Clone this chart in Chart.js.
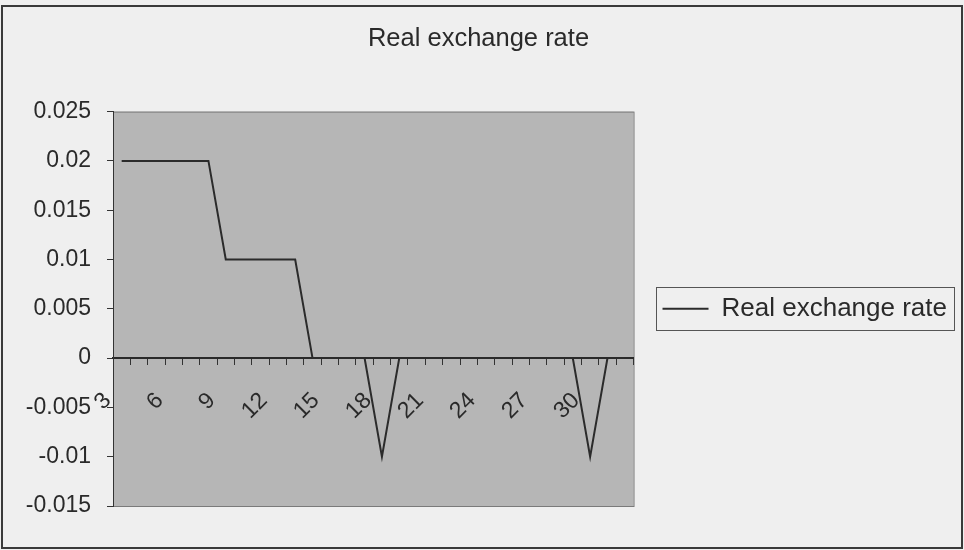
<!DOCTYPE html>
<html>
<head>
<meta charset="utf-8">
<script src="https://cdn.jsdelivr.net/npm/chart.js@4"></script>
<style>
  html, body { margin: 0; padding: 0; background: #efefef; }
  #wrap { width: 964px; height: 550px; }
</style>
</head>
<body>
<div id="wrap"><canvas id="rateChart" width="964" height="550"></canvas></div>
<script>
// periods 3..32
var periods = [3, 4, 5, 6, 7, 8, 9, 10, 11, 12, 13, 14, 15, 16, 17, 18, 19, 20, 21, 22, 23, 24, 25, 26, 27, 28, 29, 30, 31, 32];
var realRate = [0.02, 0.02, 0.02, 0.02, 0.02, 0.02, 0.01, 0.01, 0.01, 0.01, 0.01, 0, 0, 0, 0, -0.01, 0, 0, 0, 0, 0, 0, 0, 0, 0, 0, 0, -0.01, 0, 0];
var yTicks = [-0.015, -0.01, -0.005, 0, 0.005, 0.01, 0.015, 0.02, 0.025];

var font = 'Liberation Sans, Arial, sans-serif';

// grey plot area, outer frame and a box round the legend, Excel style
var excelLook = {
    id: 'excelLook',
    beforeDraw: function(chart) {
        var c = chart.ctx, a = chart.chartArea;
        c.save();
        c.fillStyle = '#efefef';
        c.fillRect(0, 0, chart.width, chart.height);
        c.strokeStyle = '#3a3a3a';
        c.lineWidth = 2;
        c.strokeRect(2, 6, chart.width - 4, chart.height - 8);
        c.fillStyle = '#b6b6b6';
        c.fillRect(a.left, a.top, a.right - a.left, a.bottom - a.top);
        c.strokeStyle = '#7a7a7a';
        c.lineWidth = 1;
        c.strokeRect(a.left + 0.5, a.top + 0.5, a.right - a.left, a.bottom - a.top);
        c.restore();
    },
    afterDraw: function(chart) {
        var hb = chart.legend.legendHitBoxes[0];
        if (!hb) return;
        var c = chart.ctx;
        c.save();
        c.strokeStyle = '#555';
        c.lineWidth = 1;
        c.strokeRect(Math.round(hb.left - 7) + 0.5, Math.round(hb.top - 9) + 0.5, Math.round(hb.width + 14), Math.round(hb.height + 17));
        c.restore();
    }
};

var ctx = document.getElementById('rateChart').getContext('2d');
var rateChart = new Chart(ctx, {
    type: 'line',
    data: {
        labels: periods,
        datasets: [{
            label: 'Real exchange rate',
            data: realRate,
            borderColor: '#2b2b2b',
            backgroundColor: '#2b2b2b',
            borderWidth: 2,
            pointRadius: 0,
            tension: 0,
            pointStyle: 'line'
        }]
    },
    options: {
        responsive: false,
        animation: false,
        layout: { padding: { top: 7, right: 7, left: 0, bottom: 44 } },
        plugins: {
            title: {
                display: true,
                text: 'Real exchange rate',
                color: '#2a2a2a',
                font: { family: font, size: 25.5, weight: 'normal' },
                padding: { top: 17, bottom: 57 }
            },
            legend: {
                position: 'right',
                fullSize: false,
                maxWidth: 400,
                labels: {
                    usePointStyle: true,
                    pointStyleWidth: 46,
                    padding: 29,
                    color: '#2a2a2a',
                    font: { family: font, size: 26 }
                }
            },
            tooltip: { enabled: false }
        },
        scales: {
            x: {
                type: 'category',
                position: { y: 0 },
                offset: true,
                grid: {
                    offset: true,
                    drawOnChartArea: false,
                    drawTicks: true,
                    tickLength: 6,
                    color: '#333'
                },
                border: { display: true, color: '#2a2a2a', width: 2 },
                ticks: {
                    autoSkip: false,
                    minRotation: 45,
                    maxRotation: 45,
                    padding: 23,
                    labelOffset: -14,
                    color: '#2a2a2a',
                    font: { family: font, size: 23 },
                    callback: function(val, i) {
                        return i % 3 === 0 ? periods[i] : '';
                    }
                }
            },
            y: {
                min: yTicks[0],
                max: yTicks[yTicks.length - 1],
                afterFit: function(scale) { scale.width = 113; },
                afterBuildTicks: function(scale) {
                    scale.ticks = yTicks.map(function(v) { return { value: v }; });
                },
                grid: {
                    drawOnChartArea: false,
                    drawTicks: true,
                    tickLength: 6,
                    color: '#333'
                },
                border: { display: true, color: '#333', width: 1 },
                ticks: {
                    padding: 16,
                    color: '#2a2a2a',
                    font: { family: font, size: 23 },
                    callback: function(v) { return String(parseFloat(Number(v).toFixed(3))); }
                }
            }
        }
    },
    plugins: [excelLook]
});
</script>
</body>
</html>
